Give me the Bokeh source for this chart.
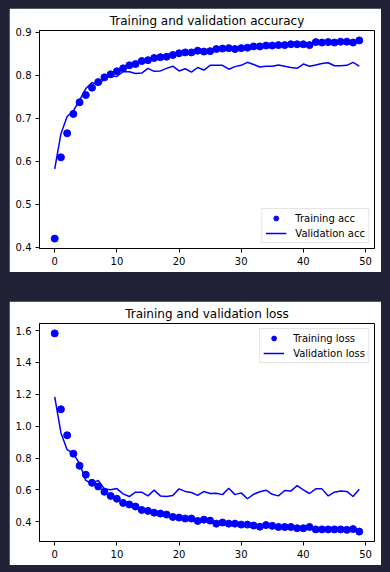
from bokeh.plotting import figure
from bokeh.layouts import column
from bokeh.models import FixedTicker, PrintfTickFormatter, Range1d
from bokeh.embed import file_html
from bokeh.resources import INLINE

epochs = list(range(50))

train_acc = [0.420, 0.609, 0.665, 0.710, 0.737, 0.754, 0.771, 0.784, 0.795, 0.802,
             0.809, 0.816, 0.823, 0.826, 0.833, 0.835, 0.840, 0.842, 0.843, 0.847,
             0.851, 0.853, 0.853, 0.857, 0.855, 0.856, 0.861, 0.862, 0.863, 0.861,
             0.863, 0.864, 0.867, 0.867, 0.869, 0.869, 0.870, 0.870, 0.872, 0.872,
             0.872, 0.870, 0.877, 0.876, 0.877, 0.876, 0.878, 0.878, 0.876, 0.881]

val_acc = [0.582, 0.664, 0.704, 0.717, 0.742, 0.769, 0.783, 0.777, 0.792, 0.798,
           0.797, 0.808, 0.808, 0.804, 0.805, 0.816, 0.809, 0.810, 0.816, 0.821,
           0.810, 0.815, 0.807, 0.818, 0.812, 0.823, 0.823, 0.823, 0.814, 0.820,
           0.823, 0.830, 0.825, 0.819, 0.821, 0.821, 0.824, 0.821, 0.818, 0.816,
           0.826, 0.821, 0.824, 0.827, 0.829, 0.822, 0.822, 0.823, 0.830, 0.821]

train_loss = [1.582, 1.106, 0.943, 0.828, 0.752, 0.696, 0.645, 0.622, 0.589, 0.563,
              0.545, 0.519, 0.509, 0.496, 0.475, 0.469, 0.458, 0.452, 0.446, 0.431,
              0.427, 0.421, 0.421, 0.406, 0.414, 0.408, 0.389, 0.396, 0.389, 0.389,
              0.383, 0.383, 0.377, 0.370, 0.380, 0.375, 0.368, 0.368, 0.368, 0.360,
              0.360, 0.368, 0.353, 0.353, 0.353, 0.353, 0.353, 0.350, 0.355, 0.339]

val_loss = [1.184, 0.958, 0.853, 0.828, 0.765, 0.660, 0.639, 0.660, 0.607, 0.601,
            0.609, 0.576, 0.559, 0.586, 0.586, 0.563, 0.599, 0.563, 0.559, 0.566,
            0.607, 0.591, 0.584, 0.566, 0.591, 0.578, 0.580, 0.571, 0.611, 0.571,
            0.582, 0.545, 0.573, 0.589, 0.599, 0.573, 0.563, 0.597, 0.593, 0.628,
            0.601, 0.578, 0.607, 0.607, 0.563, 0.586, 0.593, 0.591, 0.559, 0.605]

x_ticks = [0, 10, 20, 30, 40, 50]
acc_ticks = [0.4, 0.5, 0.6, 0.7, 0.8, 0.9]
loss_ticks = [0.4, 0.6, 0.8, 1.0, 1.2, 1.4, 1.6]

FONT = "DejaVu Sans"
BLUE = "#0000ff"


def make_fig(title, y_range, y_ticks):
    p = figure(width=372, height=264, output_backend="svg", toolbar_location=None,
               x_range=Range1d(-2.45, 51.45), y_range=Range1d(*y_range),
               title=title,
               min_border_left=30, min_border_right=7,
               min_border_top=22, min_border_bottom=24)
    p.background_fill_color = "white"
    p.border_fill_color = "white"
    p.outline_line_color = "black"
    p.outline_line_width = 1
    p.grid.visible = False
    p.title.text_font = FONT
    p.title.text_font_size = "12px"
    p.title.text_font_style = "normal"
    p.title.align = "center"
    p.title.text_color = "black"
    p.title.standoff = 5
    for ax in (p.xaxis[0], p.yaxis[0]):
        ax.axis_line_color = "black"
        ax.major_tick_line_color = "black"
        ax.major_tick_out = 4
        ax.major_tick_in = 0
        ax.minor_tick_line_color = None
        ax.major_label_text_font = FONT
        ax.major_label_text_font_size = "10px"
        ax.major_label_text_color = "black"
        ax.major_label_standoff = 4
    p.xaxis[0].ticker = FixedTicker(ticks=x_ticks)
    p.yaxis[0].ticker = FixedTicker(ticks=y_ticks)
    p.yaxis[0].formatter = PrintfTickFormatter(format="%.1f")
    return p


p1 = make_fig("Training and validation accuracy", (0.397, 0.904), acc_ticks)
p1.scatter(epochs, train_acc, size=7, color=BLUE, legend_label="Training acc")
p1.line(epochs, val_acc, line_width=1.5, color=BLUE, legend_label="Validation acc")

p2 = make_fig("Training and validation loss", (0.277, 1.644), loss_ticks)
p2.scatter(epochs, train_loss, size=7, color=BLUE, legend_label="Training loss")
p2.line(epochs, val_loss, line_width=1.5, color=BLUE, legend_label="Validation loss")

for p, loc in ((p1, "bottom_right"), (p2, "top_right")):
    lg = p.legend[0]
    lg.location = loc
    lg.margin = 5
    lg.padding = 3
    lg.spacing = 3
    lg.label_standoff = 9
    lg.glyph_width = 21
    lg.glyph_height = 12
    lg.label_height = 12
    lg.label_text_font = FONT
    lg.label_text_font_size = "10px"
    lg.label_text_color = "black"
    lg.border_line_color = "#cccccc"
    lg.border_line_width = 1
    lg.background_fill_alpha = 0.8

layout = column(p1, p2, spacing=29, width=372, height=557)

TEMPLATE = ("{% block postamble %}<style>html, body { background: #222236; } "
            "body { margin: 0; padding: 8px 0 0 9px; }</style>{% endblock %}")

open("out.html", "w").write(file_html(layout, INLINE, title="Training curves", template=TEMPLATE))
